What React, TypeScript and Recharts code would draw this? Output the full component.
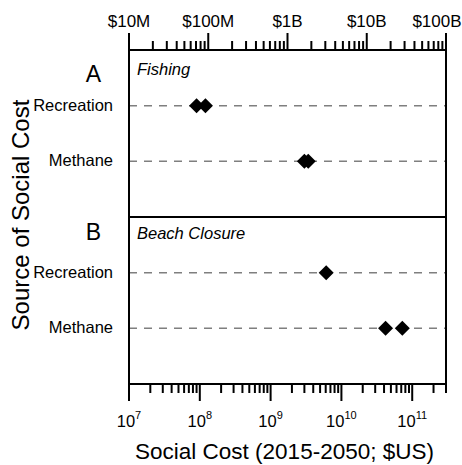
import { ReferenceLine, Scatter, ScatterChart, XAxis, YAxis } from "recharts";

// rows inside each panel, top to bottom
const rowNames = ["Recreation", "Methane"];
const panelNames = ["Fishing", "Beach Closure"];
const panelLetters = ["A", "B"];

// social cost estimates, $US (2015-2050)
const fishingRecreation = [9.0e7, 1.2e8];
const fishingMethane = [3.0e9, 3.4e9];
const beachRecreation = [6.1e9];
const beachMethane = [4.2e10, 7.25e10];

const topMajors = [1e7, 1e8, 1e9, 1e10, 1e11];
const topLabels = ["$10M", "$100M", "$1B", "$10B", "$100B"];
const bottomMajors = [1e7, 1e8, 1e9, 1e10, 1e11];
const bottomExponents = ["7", "8", "9", "10", "11"];
const minorSteps = [2, 3, 4, 5, 6, 7, 8, 9];
const bottomExtra = [2e11, 3e11];

const FONT = "'Liberation Sans', Arial, Helvetica, sans-serif";

const withMinors = (majors: number[]) =>
  majors.flatMap((m, i) => (i < majors.length - 1 ? [m, ...minorSteps.map((s) => m * s)] : [m]));

const topTicks = withMinors(topMajors);
const bottomTicks = [...withMinors(bottomMajors), ...bottomExtra];

// y position of a row: panel p, row r
const rowY = (p: number, r: number) => p * 3 + r + 1;

const points = [
  ...fishingRecreation.map((x) => ({ x, y: rowY(0, 0) })),
  ...fishingMethane.map((x) => ({ x, y: rowY(0, 1) })),
  ...beachRecreation.map((x) => ({ x, y: rowY(1, 0) })),
  ...beachMethane.map((x) => ({ x, y: rowY(1, 1) })),
];

const rowTicks = [rowY(0, 0), rowY(0, 1), rowY(1, 0), rowY(1, 1)];

const Diamond = (props: any) => {
  const { cx, cy } = props;
  const r = 7.5;
  return <path d={`M${cx},${cy - r}L${cx + r},${cy}L${cx},${cy + r}L${cx - r},${cy}Z`} fill="#000" />;
};

const Nothing = () => <g />;

const BottomTick = ({ x, y, payload }: any) => {
  const i = bottomMajors.indexOf(payload.value);
  const major = i >= 0;
  return (
    <g>
      <line x1={x} x2={x} y1={y} y2={y + (major ? 17 : 9)} stroke="#000" strokeWidth={2} />
      {major && (
        <text x={x} y={y + 43} textAnchor="middle" fontSize={16.5} fontFamily={FONT} fill="#000">
          <tspan>10</tspan>
          <tspan dy={-8} fontSize={11}>
            {bottomExponents[i]}
          </tspan>
        </text>
      )}
    </g>
  );
};

const TopTick = ({ x, y, payload }: any) => {
  const i = topMajors.indexOf(payload.value);
  const major = i >= 0;
  const last = i === topMajors.length - 1;
  return (
    <g>
      <line x1={x} x2={x} y1={y} y2={y - (major ? 17 : 9)} stroke="#000" strokeWidth={2} />
      {major && (
        <text x={last ? x - 9 : x} y={y - 23} textAnchor="middle" fontSize={17} fontFamily={FONT} fill="#000">
          {topLabels[i]}
        </text>
      )}
    </g>
  );
};

const RowTick = ({ x, y, payload }: any) => {
  const idx = rowTicks.indexOf(payload.value);
  return (
    <text x={x - 16} y={y} dy="0.3em" textAnchor="end" fontSize={16.5} fontFamily={FONT} fill="#000">
      {rowNames[idx % 2]}
    </text>
  );
};

const panelLabel = (p: number) => (props: any) => {
  const { viewBox } = props;
  const vx = viewBox.x;
  const vy = viewBox.y;
  return (
    <g>
      <text x={vx - 35.5} y={vy + (p === 0 ? 32 : 23)} textAnchor="middle" fontSize={23} fontFamily={FONT} fill="#000">
        {panelLetters[p]}
      </text>
      <text x={vx + 8} y={vy + (p === 0 ? 25 : 22)} fontSize={16.5} fontStyle="italic" fontFamily={FONT} fill="#000">
        {panelNames[p]}
      </text>
    </g>
  );
};

const yTitle = (props: any) => {
  const { viewBox } = props;
  const cx = viewBox.x + 20.5;
  const cy = viewBox.y + viewBox.height / 2 - 2;
  return (
    <text
      x={cx}
      y={cy}
      dy="0.35em"
      textAnchor="middle"
      fontSize={24}
      fontFamily={FONT}
      fill="#000"
      transform={`rotate(-90 ${cx} ${cy})`}
    >
      Source of Social Cost
    </text>
  );
};

const xTitle = (props: any) => {
  const { viewBox } = props;
  return (
    <text x={viewBox.x + viewBox.width / 2 - 3} y={viewBox.y + 75} textAnchor="middle" fontSize={22.5} fontFamily={FONT} fill="#000">
      Social Cost (2015-2050; $US)
    </text>
  );
};

export default function App() {
  return (
    <div style={{ position: "absolute", left: 0, top: 0, background: "#fff", fontFamily: FONT }}>
      <ScatterChart width={462} height={465} margin={{ top: 0, right: 0, bottom: 0, left: 0 }}>
        <XAxis
          xAxisId="bottom"
          dataKey="x"
          type="number"
          scale="log"
          domain={[1e7, 3e11]}
          allowDataOverflow
          ticks={bottomTicks}
          interval={0}
          height={81}
          tickSize={0}
          tickMargin={0}
          tick={<BottomTick />}
          axisLine={{ stroke: "#000", strokeWidth: 2 }}
          label={xTitle}
        />
        <XAxis
          xAxisId="top"
          dataKey="x"
          orientation="top"
          type="number"
          scale="log"
          domain={[1e7, 1e11]}
          allowDataOverflow
          includeHidden
          ticks={topTicks}
          interval={0}
          height={50}
          tickSize={0}
          tickMargin={0}
          tick={<TopTick />}
          axisLine={{ stroke: "#000", strokeWidth: 2 }}
        />
        <YAxis
          yAxisId="left"
          dataKey="y"
          type="number"
          domain={[0, 6]}
          reversed
          ticks={rowTicks}
          interval={0}
          width={129}
          tickSize={0}
          tickMargin={0}
          tick={<RowTick />}
          axisLine={{ stroke: "#000", strokeWidth: 2 }}
          label={yTitle}
        />
        <YAxis
          yAxisId="right"
          dataKey="y"
          orientation="right"
          type="number"
          domain={[0, 6]}
          includeHidden
          width={16}
          tick={false}
          tickLine={false}
          axisLine={{ stroke: "#000", strokeWidth: 2 }}
        />
        {rowTicks.map((t) => (
          <ReferenceLine
            key={t}
            xAxisId="bottom"
            yAxisId="left"
            y={t}
            stroke="#7f7f7f"
            strokeWidth={1.5}
            strokeDasharray="8 7"
          />
        ))}
        <ReferenceLine xAxisId="bottom" yAxisId="left" y={0} stroke="#000" strokeWidth={2} label={panelLabel(0)} />
        <ReferenceLine xAxisId="bottom" yAxisId="left" y={3} stroke="#000" strokeWidth={2} label={panelLabel(1)} />
        <Scatter
          xAxisId="bottom"
          yAxisId="left"
          data={points}
          shape={<Diamond />}
          isAnimationActive={false}
        />
        {/* carries the top axis (other $ scale) and the right frame edge; draws nothing */}
        <Scatter
          xAxisId="top"
          yAxisId="right"
          data={points}
          shape={<Nothing />}
          legendType="none"
          isAnimationActive={false}
        />
      </ScatterChart>
    </div>
  );
}
